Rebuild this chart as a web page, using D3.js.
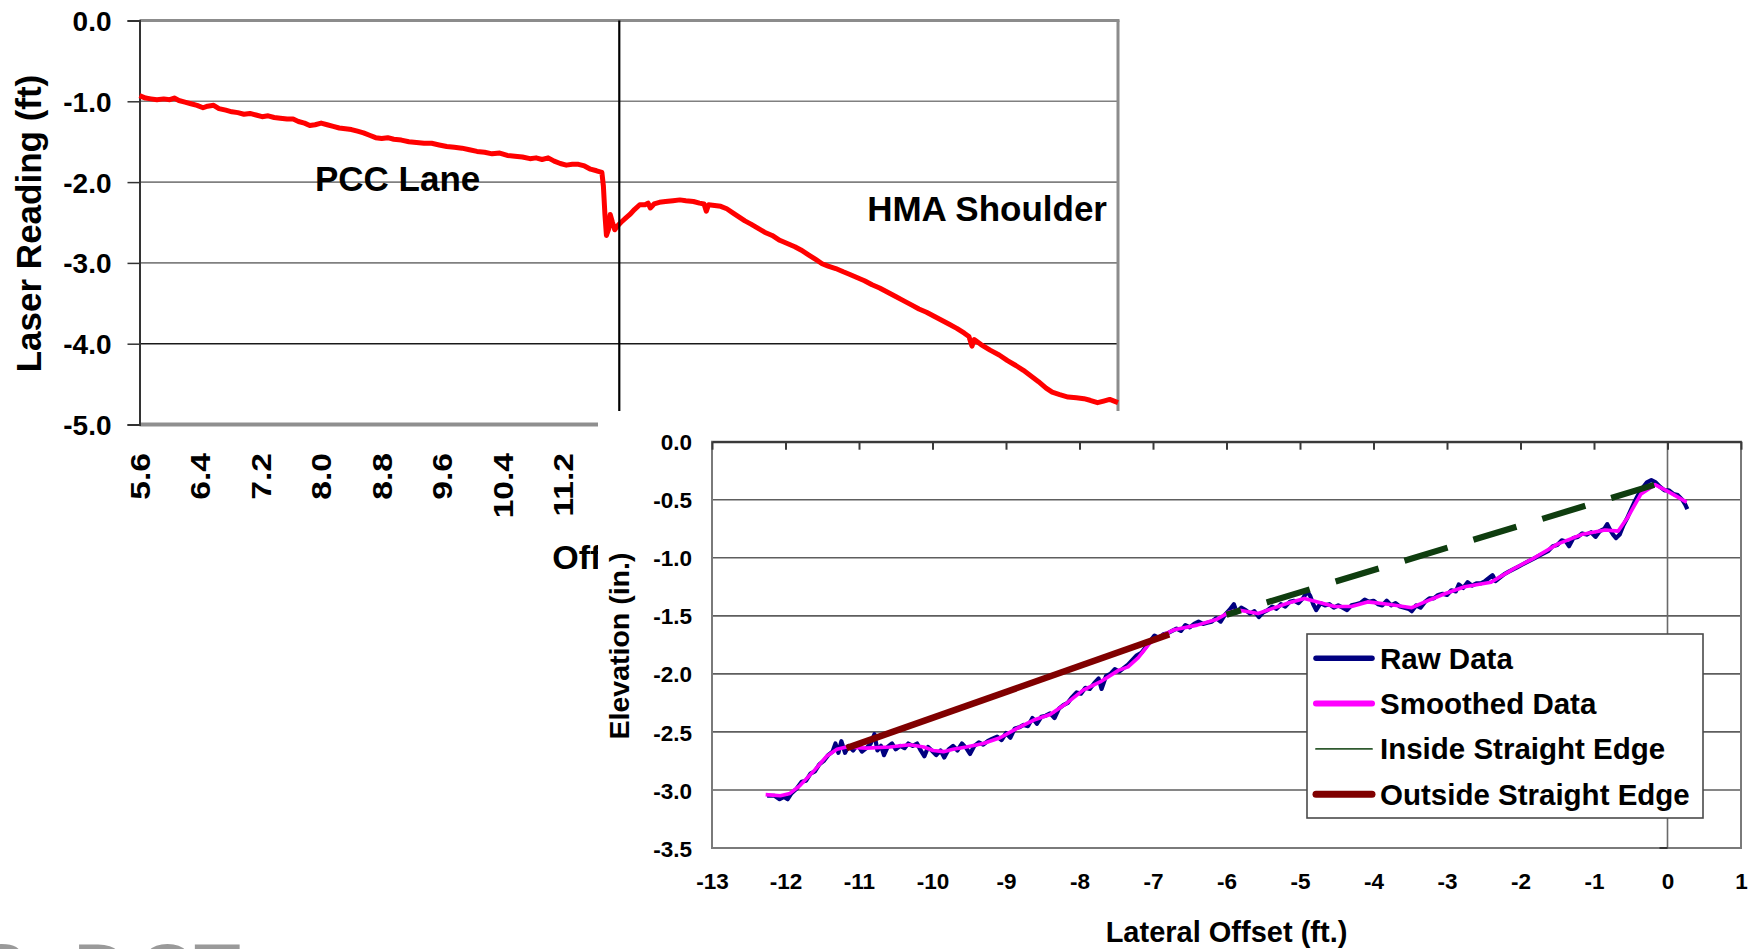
<!DOCTYPE html>
<html>
<head>
<meta charset="utf-8">
<script src="https://cdn.jsdelivr.net/npm/d3@7"></script>
<style>
  body { margin: 0; background: #fff; }
  svg { display: block; font-family: "Liberation Sans", Arial, sans-serif; font-weight: bold; }
</style>
</head>
<body>
<svg id="chart"></svg>
<script>
// ---- top chart: laser reading across the lane / shoulder ----
const laserTicksY = [0, -1, -2, -3, -4, -5];
const laserTicksX = [5.6, 6.4, 7.2, 8.0, 8.8, 9.6, 10.4, 11.2, 12.0, 12.8, 13.6, 14.4, 15.2, 16.0, 16.8, 17.6, 18.4];
const jointOffset = 11.94;
const laserReading = [
    [5.60,-0.93],[5.68,-0.96],[5.75,-0.97],[5.83,-0.98],[5.92,-0.97],[6.00,-0.98],[6.06,-0.96],[6.12,-0.99],
    [6.20,-1.01],[6.28,-1.03],[6.36,-1.05],[6.44,-1.08],[6.50,-1.06],[6.58,-1.05],[6.65,-1.09],[6.74,-1.11],
    [6.82,-1.13],[6.90,-1.14],[6.98,-1.16],[7.06,-1.15],[7.14,-1.17],[7.22,-1.19],[7.30,-1.18],[7.38,-1.20],
    [7.46,-1.21],[7.55,-1.22],[7.63,-1.22],[7.70,-1.25],[7.78,-1.27],[7.85,-1.30],[7.92,-1.29],[8.00,-1.27],
    [8.08,-1.29],[8.16,-1.31],[8.24,-1.33],[8.32,-1.34],[8.40,-1.35],[8.48,-1.37],[8.56,-1.39],[8.64,-1.42],
    [8.72,-1.45],[8.80,-1.46],[8.88,-1.45],[8.96,-1.47],[9.06,-1.48],[9.16,-1.50],[9.26,-1.51],[9.36,-1.52],
    [9.46,-1.52],[9.56,-1.54],[9.66,-1.56],[9.76,-1.57],[9.86,-1.58],[9.96,-1.60],[10.06,-1.62],[10.16,-1.63],
    [10.26,-1.65],[10.36,-1.64],[10.46,-1.67],[10.56,-1.68],[10.66,-1.69],[10.76,-1.71],[10.84,-1.70],[10.92,-1.72],
    [11.00,-1.70],[11.08,-1.74],[11.16,-1.77],[11.24,-1.79],[11.32,-1.78],[11.40,-1.78],[11.48,-1.80],[11.56,-1.84],
    [11.64,-1.86],[11.71,-1.88],[11.73,-2.05],[11.75,-2.40],[11.77,-2.66],[11.80,-2.58],[11.82,-2.40],[11.85,-2.50],
    [11.88,-2.59],[11.91,-2.55],[11.96,-2.50],[12.02,-2.45],[12.08,-2.40],[12.14,-2.34],[12.21,-2.28],[12.28,-2.28],
    [12.32,-2.26],[12.35,-2.32],[12.40,-2.27],[12.47,-2.25],[12.55,-2.24],[12.65,-2.23],[12.74,-2.22],[12.82,-2.23],
    [12.92,-2.24],[13.00,-2.26],[13.06,-2.27],[13.09,-2.36],[13.12,-2.28],[13.20,-2.29],[13.28,-2.30],[13.36,-2.33],
    [13.44,-2.38],[13.52,-2.43],[13.60,-2.48],[13.68,-2.52],[13.77,-2.57],[13.86,-2.62],[13.96,-2.66],[14.06,-2.72],
    [14.16,-2.76],[14.26,-2.80],[14.34,-2.84],[14.44,-2.90],[14.54,-2.96],[14.62,-3.01],[14.70,-3.04],[14.80,-3.07],
    [14.90,-3.11],[14.98,-3.14],[15.08,-3.18],[15.18,-3.22],[15.28,-3.27],[15.38,-3.31],[15.48,-3.36],[15.58,-3.41],
    [15.70,-3.47],[15.80,-3.52],[15.90,-3.57],[16.00,-3.61],[16.10,-3.66],[16.20,-3.71],[16.30,-3.76],[16.40,-3.81],
    [16.50,-3.87],[16.56,-3.91],[16.60,-4.03],[16.63,-3.95],[16.72,-4.01],[16.84,-4.08],[16.96,-4.14],[17.07,-4.21],
    [17.18,-4.27],[17.28,-4.33],[17.38,-4.40],[17.48,-4.47],[17.58,-4.55],[17.66,-4.60],[17.76,-4.63],[17.87,-4.66],
    [17.98,-4.67],[18.08,-4.68],[18.16,-4.70],[18.26,-4.73],[18.34,-4.71],[18.42,-4.69],[18.53,-4.73]
];

// ---- bottom chart: elevation vs lateral offset ----
const elevTicksY = [0, -0.5, -1, -1.5, -2, -2.5, -3, -3.5];
const offsetTicksX = [-13, -12, -11, -10, -9, -8, -7, -6, -5, -4, -3, -2, -1, 0, 1];
const seriesNames = ["Raw Data", "Smoothed Data", "Inside Straight Edge", "Outside Straight Edge"];
const rawData = [
    [-12.25,-3.05],[-12.15,-3.05],[-12.08,-3.08],[-12.02,-3.06],[-11.97,-3.08],[-11.92,-3.03],[-11.85,-2.99],[-11.78,-2.93],
    [-11.72,-2.92],[-11.66,-2.86],[-11.60,-2.84],[-11.54,-2.78],[-11.48,-2.75],[-11.42,-2.70],[-11.36,-2.67],[-11.32,-2.60],
    [-11.28,-2.68],[-11.24,-2.58],[-11.19,-2.68],[-11.14,-2.62],[-11.08,-2.66],[-11.02,-2.61],[-10.96,-2.67],[-10.90,-2.64],
    [-10.84,-2.60],[-10.79,-2.52],[-10.75,-2.66],[-10.70,-2.62],[-10.66,-2.70],[-10.61,-2.63],[-10.55,-2.60],[-10.50,-2.65],
    [-10.44,-2.62],[-10.38,-2.64],[-10.33,-2.60],[-10.27,-2.62],[-10.21,-2.60],[-10.16,-2.66],[-10.11,-2.71],[-10.06,-2.63],
    [-10.01,-2.66],[-9.95,-2.70],[-9.89,-2.66],[-9.84,-2.72],[-9.78,-2.65],[-9.72,-2.62],[-9.66,-2.66],[-9.60,-2.60],
    [-9.54,-2.64],[-9.49,-2.69],[-9.43,-2.62],[-9.37,-2.59],[-9.31,-2.61],[-9.25,-2.58],[-9.19,-2.56],[-9.12,-2.54],
    [-9.06,-2.57],[-9.00,-2.51],[-8.94,-2.55],[-8.88,-2.47],[-8.82,-2.46],[-8.76,-2.44],[-8.70,-2.45],[-8.64,-2.38],
    [-8.58,-2.43],[-8.52,-2.37],[-8.46,-2.36],[-8.40,-2.34],[-8.34,-2.38],[-8.28,-2.30],[-8.22,-2.27],[-8.16,-2.25],
    [-8.10,-2.20],[-8.04,-2.16],[-7.98,-2.17],[-7.92,-2.12],[-7.86,-2.13],[-7.80,-2.08],[-7.74,-2.04],[-7.70,-2.13],
    [-7.64,-2.02],[-7.58,-2.00],[-7.52,-1.96],[-7.46,-1.98],[-7.40,-1.95],[-7.34,-1.92],[-7.28,-1.88],[-7.22,-1.84],
    [-7.16,-1.82],[-7.10,-1.77],[-7.04,-1.72],[-6.98,-1.67],[-6.92,-1.69],[-6.86,-1.66],[-6.80,-1.65],[-6.74,-1.63],
    [-6.68,-1.61],[-6.62,-1.63],[-6.56,-1.58],[-6.50,-1.60],[-6.44,-1.57],[-6.38,-1.55],[-6.32,-1.57],[-6.26,-1.56],
    [-6.20,-1.55],[-6.14,-1.52],[-6.08,-1.55],[-6.02,-1.49],[-5.96,-1.45],[-5.90,-1.40],[-5.86,-1.47],[-5.80,-1.43],
    [-5.74,-1.45],[-5.68,-1.48],[-5.62,-1.46],[-5.56,-1.51],[-5.50,-1.47],[-5.44,-1.45],[-5.38,-1.42],[-5.32,-1.44],
    [-5.26,-1.40],[-5.20,-1.42],[-5.14,-1.38],[-5.08,-1.37],[-5.02,-1.39],[-4.96,-1.35],[-4.90,-1.29],[-4.86,-1.33],
    [-4.82,-1.40],[-4.78,-1.45],[-4.72,-1.39],[-4.66,-1.41],[-4.60,-1.40],[-4.54,-1.43],[-4.48,-1.41],[-4.42,-1.43],
    [-4.36,-1.45],[-4.30,-1.41],[-4.24,-1.40],[-4.18,-1.39],[-4.12,-1.36],[-4.06,-1.38],[-4.00,-1.37],[-3.94,-1.40],
    [-3.88,-1.41],[-3.82,-1.37],[-3.76,-1.41],[-3.70,-1.39],[-3.64,-1.42],[-3.58,-1.43],[-3.52,-1.44],[-3.48,-1.46],
    [-3.42,-1.41],[-3.36,-1.43],[-3.30,-1.38],[-3.24,-1.35],[-3.18,-1.35],[-3.12,-1.32],[-3.06,-1.31],[-3.00,-1.32],
    [-2.94,-1.28],[-2.88,-1.29],[-2.84,-1.23],[-2.78,-1.26],[-2.72,-1.21],[-2.66,-1.24],[-2.60,-1.22],[-2.54,-1.22],
    [-2.48,-1.20],[-2.42,-1.17],[-2.38,-1.15],[-2.34,-1.20],[-2.28,-1.17],[-2.22,-1.14],[-2.16,-1.12],[-2.10,-1.10],
    [-2.04,-1.08],[-1.98,-1.06],[-1.92,-1.04],[-1.86,-1.02],[-1.80,-1.00],[-1.74,-0.98],[-1.68,-0.96],[-1.62,-0.94],
    [-1.56,-0.90],[-1.50,-0.89],[-1.44,-0.85],[-1.38,-0.86],[-1.34,-0.90],[-1.28,-0.83],[-1.22,-0.82],[-1.16,-0.79],
    [-1.10,-0.80],[-1.04,-0.78],[-0.98,-0.82],[-0.92,-0.77],[-0.86,-0.75],[-0.82,-0.71],[-0.78,-0.76],[-0.74,-0.80],
    [-0.70,-0.83],[-0.65,-0.80],[-0.60,-0.72],[-0.55,-0.66],[-0.50,-0.59],[-0.45,-0.52],[-0.40,-0.46],[-0.34,-0.40],
    [-0.28,-0.35],[-0.22,-0.33],[-0.16,-0.35],[-0.10,-0.39],[-0.04,-0.42],[0.02,-0.42],[0.08,-0.45],[0.14,-0.46],
    [0.20,-0.50],[0.24,-0.54],[0.27,-0.58]
];
const smoothedData = [
    [-12.27,-3.04],[-12.07,-3.05],[-11.94,-3.03],[-11.80,-2.96],[-11.62,-2.84],[-11.44,-2.71],[-11.30,-2.65],[-11.17,-2.63],
    [-10.90,-2.64],[-10.58,-2.63],[-10.31,-2.61],[-10.12,-2.63],[-9.99,-2.66],[-9.85,-2.67],[-9.72,-2.65],[-9.54,-2.63],
    [-9.31,-2.60],[-9.08,-2.55],[-8.85,-2.47],[-8.63,-2.40],[-8.40,-2.35],[-8.17,-2.25],[-7.95,-2.14],[-7.72,-2.07],
    [-7.47,-1.97],[-7.34,-1.94],[-7.20,-1.86],[-7.05,-1.74],[-6.95,-1.69],[-6.71,-1.62],[-6.40,-1.58],[-6.13,-1.53],
    [-5.97,-1.47],[-5.84,-1.45],[-5.57,-1.48],[-5.39,-1.44],[-5.16,-1.39],[-4.94,-1.35],[-4.76,-1.38],[-4.53,-1.42],
    [-4.30,-1.42],[-4.08,-1.38],[-3.80,-1.40],[-3.48,-1.43],[-3.30,-1.38],[-3.03,-1.31],[-2.76,-1.25],[-2.40,-1.21],
    [-2.08,-1.09],[-1.81,-1.00],[-1.49,-0.88],[-1.17,-0.80],[-0.85,-0.76],[-0.67,-0.77],[-0.54,-0.65],[-0.36,-0.45],
    [-0.17,-0.37],[0.01,-0.43],[0.26,-0.52]
];
const insideEdge = [[-6.00,-1.49],[-0.17,-0.37]];
const outsideEdge = [[-11.17,-2.64],[-6.78,-1.66]];

const config = {
    width: 1758,
    height: 949,
    top: {left: 139.5, right: 1118, top: 20.5, bottom: 424.5},
    bottom: {left: 712, right: 1741, top: 441.7, bottom: 848},
    overlay: {x: 598, y: 411}
};

const svg = d3.select("#chart")
    .attr("width", config.width)
    .attr("height", config.height);

const fmt1 = d => d.toFixed(1);

// ================= top chart =================
const tc = config.top;
const topX = d3.scaleLinear().domain([5.6, 18.53]).range([tc.left, tc.right]);
const topY = d3.scaleLinear().domain([-5, 0]).range([tc.bottom, tc.top]);
const gTop = svg.append("g");

// gridlines
gTop.selectAll("line.grid")
    .data(laserTicksY.filter(d => d < 0 && d > -5))
    .enter()
    .append("line")
    .attr("x1", tc.left).attr("x2", tc.right)
    .attr("y1", d => topY(d)).attr("y2", d => topY(d))
    .attr("stroke", d => d === -4 ? "#1a1a1a" : "#808080")
    .attr("stroke-width", 1.6);

// frame
gTop.append("line").attr("x1", tc.left).attr("x2", tc.right + 1.5)
    .attr("y1", tc.top).attr("y2", tc.top)
    .attr("stroke", "#8c8c8c").attr("stroke-width", 3);
gTop.append("line").attr("x1", tc.right).attr("x2", tc.right)
    .attr("y1", tc.top).attr("y2", tc.bottom)
    .attr("stroke", "#8c8c8c").attr("stroke-width", 3);
gTop.append("line").attr("x1", tc.left).attr("x2", tc.right)
    .attr("y1", tc.bottom).attr("y2", tc.bottom)
    .attr("stroke", "#8f8f8f").attr("stroke-width", 4);

// y axis
const topYAxis = gTop.append("g")
    .attr("transform", `translate(${tc.left},0)`)
    .call(d3.axisLeft(topY).tickValues(laserTicksY).tickFormat(fmt1).tickSize(12).tickPadding(16));
topYAxis.select(".domain").attr("stroke", "#333").attr("stroke-width", 2);
topYAxis.selectAll(".tick line").attr("stroke", "#333").attr("stroke-width", 1.5);
topYAxis.selectAll("text")
    .attr("font-size", 28).attr("font-family", null).attr("fill", "#000")
    .attr("dy", "0.36em");

// x tick labels (rotated)
gTop.selectAll("text.xlab")
    .data(laserTicksX)
    .enter()
    .append("text")
    .attr("transform", d => `translate(${topX(d)},453) rotate(-90) scale(1.2,1)`)
    .attr("text-anchor", "end")
    .attr("dy", "0.36em")
    .attr("font-size", 28)
    .text(fmt1);

// axis titles
gTop.append("text")
    .attr("transform", `translate(28,${(tc.top + tc.bottom) / 2 + 1}) rotate(-90)`)
    .attr("text-anchor", "middle")
    .attr("dy", "0.36em")
    .attr("font-size", 35)
    .text("Laser Reading (ft)");
gTop.append("text")
    .attr("x", (tc.left + tc.right) / 2).attr("y", 569)
    .attr("text-anchor", "middle")
    .attr("font-size", 34)
    .text("Offset (ft)");

// red profile
gTop.append("path")
    .datum(laserReading)
    .attr("fill", "none")
    .attr("stroke", "#ff0000")
    .attr("stroke-width", 5)
    .attr("stroke-linejoin", "round")
    .attr("d", d3.line().x(d => topX(d[0])).y(d => topY(d[1])));

// lane / shoulder joint
gTop.append("line")
    .attr("x1", topX(jointOffset)).attr("x2", topX(jointOffset))
    .attr("y1", tc.top).attr("y2", tc.bottom)
    .attr("stroke", "#000").attr("stroke-width", 2.2);

gTop.append("text").attr("x", 315).attr("y", 191).attr("font-size", 35).text("PCC Lane");
gTop.append("text").attr("x", 1107).attr("y", 221).attr("text-anchor", "end").attr("font-size", 35).text("HMA Shoulder");

// logo fragment at the lower left edge
const logo = svg.append("text").attr("y", 997).attr("font-size", 76).attr("fill", "#9a9a9a");
[["S", -24], ["D", 74], ["O", 138], ["T", 194]].forEach(([ch, x]) => {
    logo.append("tspan").attr("x", x).text(ch);
});

// ================= bottom chart (pasted on top) =================
svg.append("rect")
    .attr("x", config.overlay.x).attr("y", config.overlay.y)
    .attr("width", config.width - config.overlay.x)
    .attr("height", config.height - config.overlay.y)
    .attr("fill", "#fff");

const bc = config.bottom;
const botX = d3.scaleLinear().domain([-13, 1]).range([bc.left, bc.right]);
const botY = d3.scaleLinear().domain([-3.5, 0]).range([bc.bottom, bc.top]);
const gBot = svg.append("g");

gBot.selectAll("line.grid")
    .data(elevTicksY.filter(d => d < 0 && d > -3.5))
    .enter()
    .append("line")
    .attr("x1", bc.left).attr("x2", bc.right)
    .attr("y1", d => botY(d)).attr("y2", d => botY(d))
    .attr("stroke", "#5e5e5e")
    .attr("stroke-width", 1.6);

gBot.append("rect")
    .attr("x", bc.left).attr("y", bc.top)
    .attr("width", bc.right - bc.left).attr("height", bc.bottom - bc.top)
    .attr("fill", "none").attr("stroke", "#7a7a7a").attr("stroke-width", 2);

// zero line (vertical axis)
gBot.append("line")
    .attr("x1", botX(0)).attr("x2", botX(0))
    .attr("y1", bc.top).attr("y2", bc.bottom)
    .attr("stroke", "#6a6a6a").attr("stroke-width", 1.6);
gBot.append("line")
    .attr("x1", botX(0) - 8).attr("x2", botX(0))
    .attr("y1", bc.bottom).attr("y2", bc.bottom)
    .attr("stroke", "#333").attr("stroke-width", 2);

// x axis line at y = 0 with inward ticks
const topAxis = gBot.append("g")
    .attr("transform", `translate(0,${botY(0)})`)
    .call(d3.axisTop(botX).tickValues(offsetTicksX).tickFormat("").tickSize(-8).tickSizeOuter(0));
topAxis.select(".domain").attr("stroke", "#3a3a3a").attr("stroke-width", 2.2);
topAxis.selectAll(".tick line").attr("stroke", "#3a3a3a").attr("stroke-width", 2);

// x labels low
const xLab = gBot.append("g")
    .attr("transform", `translate(0,${bc.bottom})`)
    .call(d3.axisBottom(botX).tickValues(offsetTicksX).tickFormat(d => String(d)).tickSize(0).tickPadding(25));
xLab.select(".domain").remove();
xLab.selectAll("text").attr("font-size", 22.5).attr("font-family", null).attr("fill", "#000");

// y labels
const yLab = gBot.append("g")
    .attr("transform", `translate(${bc.left},0)`)
    .call(d3.axisLeft(botY).tickValues(elevTicksY).tickFormat(fmt1).tickSize(0).tickPadding(20));
yLab.select(".domain").remove();
yLab.selectAll("text").attr("font-size", 22.5).attr("font-family", null).attr("fill", "#000").attr("dy", "0.36em");

gBot.append("text")
    .attr("transform", `translate(619,646) rotate(-90)`)
    .attr("text-anchor", "middle")
    .attr("dy", "0.36em")
    .attr("font-size", 28.5)
    .text("Elevation (in.)");
gBot.append("text")
    .attr("x", (bc.left + bc.right) / 2).attr("y", 941.5)
    .attr("text-anchor", "middle")
    .attr("font-size", 29)
    .text("Lateral Offset (ft.)");

const line = d3.line().x(d => botX(d[0])).y(d => botY(d[1]));
const styles = [
    {data: rawData, color: "#000080", width: 4.2, dash: null},
    {data: smoothedData, color: "#ff00ff", width: 3.6, dash: null},
    {data: insideEdge, color: "#0f3d0f", width: 6.2, dash: "45 27"},
    {data: outsideEdge, color: "#800000", width: 6.5, dash: null}
];
styles.forEach(s => {
    gBot.append("path")
        .datum(s.data)
        .attr("fill", "none")
        .attr("stroke", s.color)
        .attr("stroke-width", s.width)
        .attr("stroke-linejoin", "round")
        .attr("stroke-dasharray", s.dash)
        .attr("stroke-dashoffset", s.dash ? 30 : null)
        .attr("d", line);
});

// legend
const legend = gBot.append("g").attr("transform", "translate(1307,634)");
legend.append("rect")
    .attr("width", 396).attr("height", 184)
    .attr("fill", "#fff").attr("stroke", "#4a4a4a").attr("stroke-width", 1.6);
const legendLine = [
    {color: "#000080", width: 5.5},
    {color: "#ff00ff", width: 6},
    {color: "#2f5a2f", width: 1.8},
    {color: "#800000", width: 7}
];
const row = legend.selectAll("g.row")
    .data(seriesNames)
    .enter()
    .append("g")
    .attr("transform", (d, i) => `translate(0,${24.3 + i * 45.3})`);
row.append("line")
    .attr("x1", 9).attr("x2", 65)
    .attr("stroke", (d, i) => legendLine[i].color)
    .attr("stroke-width", (d, i) => legendLine[i].width)
    .attr("stroke-linecap", "round");
row.append("text")
    .attr("x", 73).attr("y", 10.5)
    .attr("font-size", 29.5)
    .text(d => d);
</script>
</body>
</html>
